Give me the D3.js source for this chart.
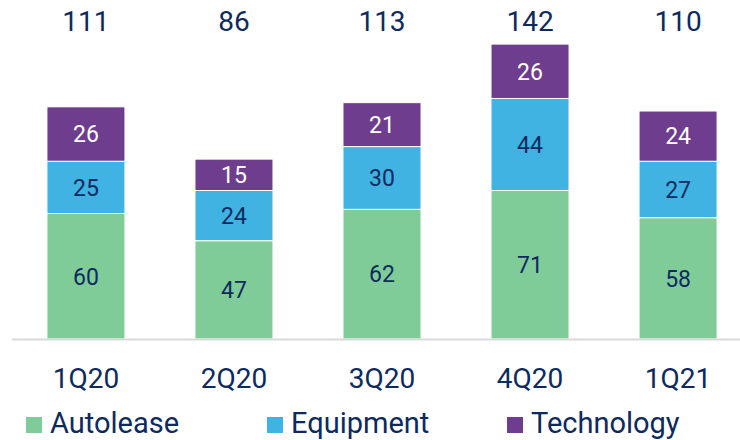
<!DOCTYPE html>
<html lang="en">
<head>
<meta charset="UTF-8">
<title>Stacked bars</title>
<script src="https://d3js.org/d3.v7.min.js"></script>
<style>
  body { margin: 0; background: #fff; }
  text { font-family: Roboto, "Noto Sans", sans-serif; fill: #0d2a5e; }
</style>
</head>
<body>
<svg width="740" height="440"></svg>
<script>
var quarters = ["1Q20", "2Q20", "3Q20", "4Q20", "1Q21"];
var autolease = [60, 47, 62, 71, 58];
var equipment = [25, 24, 30, 44, 27];
var technology = [26, 15, 21, 26, 24];
var totals = [111, 86, 113, 142, 110];
var seriesNames = ["Autolease", "Equipment", "Technology"];
var colors = ["#80cc99", "#41b3e3", "#6f3d8e"];
var labelColors = ["#0d2a5e", "#0d2a5e", "#ffffff"];

var svg = d3.select("svg");

var rows = quarters.map(function (q, i) {
    return { q: q, Autolease: autolease[i], Equipment: equipment[i], Technology: technology[i] };
});
var stacked = d3.stack().keys(seriesNames)(rows);

var x = d3.scaleBand().domain(quarters).range([12, 752])
    .paddingInner(0.473).paddingOuter(0.236);
var y = d3.scaleLinear().domain([0, 142]).range([339, 42]);

var layers = svg.selectAll(".layer")
    .data(stacked)
    .enter().append("g")
    .attr("class", "layer")
    .attr("fill", function (d, i) { return colors[i]; });

layers.selectAll("rect")
    .data(function (d) { return d; })
    .enter().append("rect")
    .attr("x", function (d) { return x(d.data.q); })
    .attr("y", function (d) { return y(d[1]); })
    .attr("width", x.bandwidth())
    .attr("height", function (d) { return y(d[0]) - y(d[1]); })
    .attr("stroke", "#fff")
    .attr("stroke-width", 1);

layers.each(function (s, si) {
    d3.select(this).selectAll("text")
        .data(s)
        .enter().append("text")
        .attr("x", function (d) { return x(d.data.q) + x.bandwidth() / 2; })
        .attr("y", function (d) { return (y(d[0]) + y(d[1])) / 2; })
        .attr("dy", "0.36em")
        .attr("text-anchor", "middle")
        .style("font-size", "23px")
        .style("fill", labelColors[si])
        .text(function (d) { return d[1] - d[0]; });
});

// axis line
svg.append("line")
    .attr("x1", 12).attr("x2", 740)
    .attr("y1", 339.5).attr("y2", 339.5)
    .attr("stroke", "#d9d9d9").attr("stroke-width", 2);

// totals
svg.selectAll(".total")
    .data(totals)
    .enter().append("text")
    .attr("class", "total")
    .attr("x", function (d, i) { return x(quarters[i]) + x.bandwidth() / 2; })
    .attr("y", 31)
    .attr("text-anchor", "middle")
    .style("font-size", "28px")
    .text(function (d) { return d; });

// category labels
svg.selectAll(".cat")
    .data(quarters)
    .enter().append("text")
    .attr("class", "cat")
    .attr("x", function (d) { return x(d) + x.bandwidth() / 2; })
    .attr("y", 388)
    .attr("text-anchor", "middle")
    .style("font-size", "28px")
    .text(function (d) { return d; });

// legend
var legendX = [26, 267, 507];
var legend = svg.selectAll(".legend")
    .data(seriesNames)
    .enter().append("g")
    .attr("class", "legend")
    .attr("transform", function (d, i) { return "translate(" + legendX[i] + ",0)"; });
legend.append("rect")
    .attr("x", 0).attr("y", 417)
    .attr("width", 16).attr("height", 16)
    .attr("fill", function (d, i) { return colors[i]; });
legend.append("text")
    .attr("x", 24).attr("y", 433)
    .style("font-size", "29px")
    .text(function (d) { return d; });
</script>
</body>
</html>
